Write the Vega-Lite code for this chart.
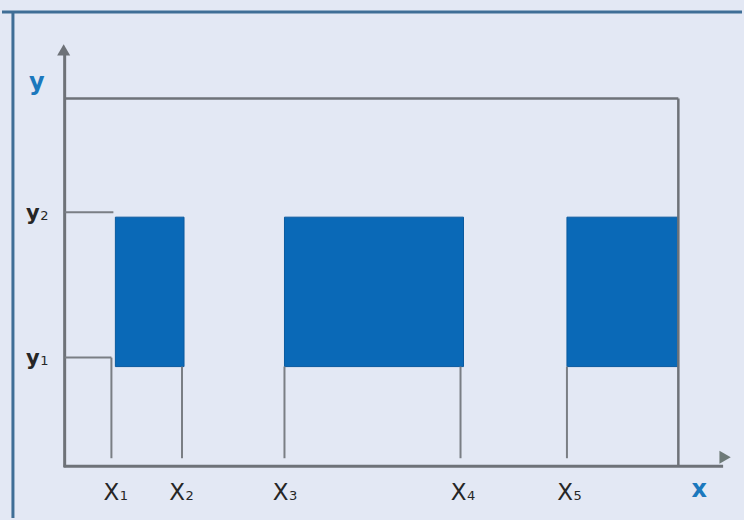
{
  "$schema": "https://vega.github.io/schema/vega-lite/v6.json",
  "width": 744,
  "height": 520,
  "autosize": {"type": "fit", "contains": "padding"},
  "padding": 0,
  "background": "#e3e8f4",
  "config": {"view": {"stroke": null}},
  "datasets": {
    "lines": [
      {"kind": "border", "x": 0, "x2": 744, "y": 12, "y2": 12},
      {"kind": "border", "x": 11, "x2": 11, "y": 12, "y2": 520},
      {"kind": "axis", "x": 63, "x2": 63, "y": 52, "y2": 469},
      {"kind": "axis", "x": 62, "x2": 725, "y": 468, "y2": 468},
      {"kind": "frame", "x": 63, "x2": 680, "y": 99, "y2": 99},
      {"kind": "frame", "x": 680, "x2": 680, "y": 99, "y2": 468},
      {"kind": "guide", "x": 63, "x2": 112, "y": 213, "y2": 213},
      {"kind": "guide", "x": 63, "x2": 110, "y": 359, "y2": 359},
      {"kind": "guide", "x": 110, "x2": 110, "y": 359, "y2": 460},
      {"kind": "guide", "x": 181, "x2": 181, "y": 368, "y2": 460},
      {"kind": "guide", "x": 284, "x2": 284, "y": 368, "y2": 460},
      {"kind": "guide", "x": 461, "x2": 461, "y": 368, "y2": 460},
      {"kind": "guide", "x": 568, "x2": 568, "y": 368, "y2": 460}
    ],
    "rects": [
      {"x": 114, "x2": 183, "y": 218, "y2": 368},
      {"x": 284, "x2": 464, "y": 218, "y2": 368},
      {"x": 568, "x2": 680, "y": 218, "y2": 368}
    ],
    "ticks": [
      {"kind": "x", "x": 118, "y": 502, "main": "X", "sub": "1"},
      {"kind": "x", "x": 184, "y": 502, "main": "X", "sub": "2"},
      {"kind": "x", "x": 288, "y": 502, "main": "X", "sub": "3"},
      {"kind": "x", "x": 467, "y": 502, "main": "X", "sub": "4"},
      {"kind": "x", "x": 574, "y": 502, "main": "X", "sub": "5"},
      {"kind": "y", "x": 38, "y": 221, "main": "y", "sub": "2"},
      {"kind": "y", "x": 38, "y": 366, "main": "y", "sub": "1"}
    ],
    "names": [
      {"x": 35, "y": 83, "t": "y"},
      {"x": 701, "y": 492, "t": "x"}
    ],
    "arrows": [
      {"dir": "up", "x": 62, "y": 50},
      {"dir": "right", "x": 727, "y": 459}
    ]
  },
  "encoding": {
    "x": {"field": "x", "type": "quantitative", "scale": {"domain": [0, 744], "nice": false, "zero": false}, "axis": null},
    "y": {"field": "y", "type": "quantitative", "scale": {"domain": [0, 520], "reverse": true, "nice": false, "zero": false}, "axis": null}
  },
  "layer": [
    {
      "data": {"name": "rects"},
      "mark": {"type": "rect", "color": "#0a69b7", "stroke": "#0a5a9f", "strokeWidth": 1},
      "encoding": {"x2": {"field": "x2"}, "y2": {"field": "y2"}}
    },
    {
      "data": {"name": "lines"},
      "transform": [{"filter": "datum.kind === 'border'"}],
      "mark": {"type": "rule", "color": "#3f6e96", "strokeWidth": 3},
      "encoding": {"x2": {"field": "x2"}, "y2": {"field": "y2"}}
    },
    {
      "data": {"name": "lines"},
      "transform": [{"filter": "datum.kind === 'axis'"}],
      "mark": {"type": "rule", "color": "#6e7278", "strokeWidth": 3},
      "encoding": {"x2": {"field": "x2"}, "y2": {"field": "y2"}}
    },
    {
      "data": {"name": "lines"},
      "transform": [{"filter": "datum.kind === 'frame'"}],
      "mark": {"type": "rule", "color": "#6e7278", "strokeWidth": 2.5},
      "encoding": {"x2": {"field": "x2"}, "y2": {"field": "y2"}}
    },
    {
      "data": {"name": "lines"},
      "transform": [{"filter": "datum.kind === 'guide'"}],
      "mark": {"type": "rule", "color": "#7a7e84", "strokeWidth": 2},
      "encoding": {"x2": {"field": "x2"}, "y2": {"field": "y2"}}
    },
    {
      "data": {"name": "arrows"},
      "transform": [{"filter": "datum.dir === 'up'"}],
      "mark": {"type": "point", "shape": "triangle-up", "filled": true, "color": "#6e7278", "size": 170, "opacity": 1}
    },
    {
      "data": {"name": "arrows"},
      "transform": [{"filter": "datum.dir === 'right'"}],
      "mark": {"type": "point", "shape": "triangle-right", "filled": true, "color": "#6e7a78", "size": 170, "opacity": 1}
    },
    {
      "data": {"name": "ticks"},
      "transform": [{"filter": "datum.kind === 'x'"}],
      "mark": {"type": "text", "font": "DejaVu Sans", "fontSize": 23, "color": "#262626", "align": "right", "baseline": "alphabetic"},
      "encoding": {"text": {"field": "main"}}
    },
    {
      "data": {"name": "ticks"},
      "transform": [{"filter": "datum.kind === 'y'"}],
      "mark": {"type": "text", "font": "DejaVu Sans", "fontSize": 21, "fontWeight": "bold", "color": "#262626", "align": "right", "baseline": "alphabetic"},
      "encoding": {"text": {"field": "main"}}
    },
    {
      "data": {"name": "ticks"},
      "mark": {"type": "text", "font": "DejaVu Sans", "fontSize": 13, "color": "#262626", "align": "left", "baseline": "alphabetic", "dx": 0.5},
      "encoding": {"text": {"field": "sub"}}
    },
    {
      "data": {"name": "names"},
      "mark": {"type": "text", "font": "DejaVu Sans", "fontSize": 24, "fontWeight": "bold", "color": "#1b78bd", "align": "center", "baseline": "middle"},
      "encoding": {"text": {"field": "t"}}
    }
  ]
}
